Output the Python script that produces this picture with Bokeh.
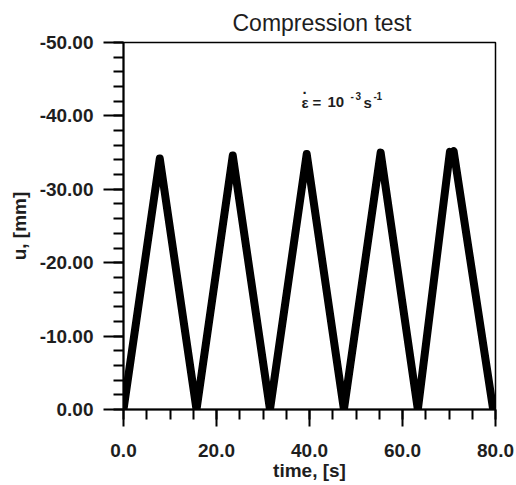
from bokeh.plotting import figure
from bokeh.models import Range1d, SingleIntervalTicker, PrintfTickFormatter, Label
from bokeh.embed import file_html
from bokeh.resources import INLINE

# ---- data ----
time_s = [0.0, 7.8, 15.7, 23.5, 31.5, 39.4, 47.4, 55.3, 63.3, 70.2, 70.5, 71.0, 79.5]
u_mm = [0.0, -34.2, 0.0, -34.6, 0.0, -34.8, 0.0, -35.0, 0.0, -35.1, -34.9, -35.2, 0.0]

title_text = "Compression test"
x_label = "time, [s]"
y_label = "u, [mm]"
# strain-rate annotation pieces: text, is_superscript
annot_text = ["\u03b5", ".", "=", "10", "-", "3", "s", "-", "1"]
annot_sup = [False, False, False, False, True, True, False, True, True]

FONT = "Liberation Sans"
INK = "#1e1e1e"

p = figure(width=516, height=485, output_backend="svg", toolbar_location=None,
           x_range=Range1d(0, 80), y_range=Range1d(0, -50),
           min_border_left=123, min_border_right=21, min_border_top=41, min_border_bottom=76)

p.line(time_s, u_mm, line_color="black", line_width=8, line_join="round", line_cap="round")

p.grid.visible = False
p.outline_line_color = "black"
p.outline_line_width = 1.5
p.background_fill_color = "white"
p.border_fill_color = "white"

# title
p.title.text = title_text
p.title.text_font = FONT
p.title.text_font_style = "normal"
p.title.text_font_size = "23px"
p.title.align = "left"
p.title.offset = 109
p.title.standoff = 14
p.title.text_color = INK

xa = p.xaxis[0]
xa.ticker = SingleIntervalTicker(interval=20, num_minor_ticks=4)
xa.formatter = PrintfTickFormatter(format="%.1f")
xa.axis_label = x_label
ya = p.yaxis[0]
ya.ticker = SingleIntervalTicker(interval=10, num_minor_ticks=5)
ya.formatter = PrintfTickFormatter(format="%.2f")
ya.axis_label = y_label

for ax in (xa, ya):
    ax.axis_line_width = 2
    ax.axis_line_color = "black"
    ax.major_tick_line_width = 2
    ax.minor_tick_line_width = 2
    ax.major_tick_line_color = "black"
    ax.minor_tick_line_color = "black"
    ax.major_tick_in = 0
    ax.minor_tick_in = 0
    ax.major_label_text_font = FONT
    ax.major_label_text_font_style = "bold"
    ax.major_label_text_font_size = "19px"
    ax.major_label_text_color = INK
    ax.axis_label_text_font = FONT
    ax.axis_label_text_font_style = "bold"
    ax.axis_label_text_font_size = "19px"
    ax.axis_label_text_color = INK

xa.major_tick_out = 17
xa.minor_tick_out = 10
xa.major_label_standoff = 17
xa.axis_label_standoff = 0

ya.major_tick_out = 20
ya.minor_tick_out = 10
ya.major_label_standoff = 10
ya.axis_label_standoff = 7

# annotation: strain rate (anchored in data space, pieces offset in pixels)
ax0 = 38.28
ay0 = -41.85
xoffs = [0, 1, 11, 26, 49, 54, 62, 72, 75]
for txt, sup, xo in zip(annot_text, annot_sup, xoffs):
    if txt == ".":
        sz, yo = "15px", 13
    elif sup:
        sz, yo = "10px", 6
    else:
        sz, yo = "15px", 0
    p.add_layout(Label(x=ax0, y=ay0, text=txt, x_offset=xo, y_offset=yo,
                       text_font=FONT, text_font_style="bold", text_font_size=sz,
                       text_baseline="alphabetic", text_align="left", text_color=INK))

open("out.html", "w").write(file_html(p, INLINE))
